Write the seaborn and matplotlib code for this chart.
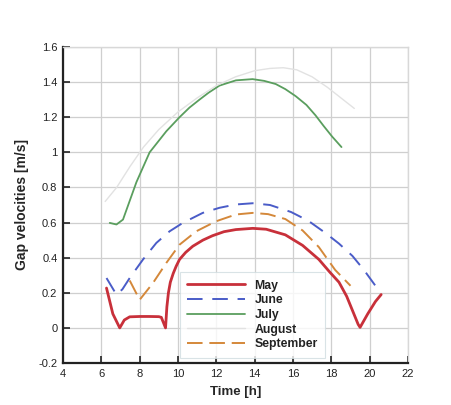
import numpy as np
import pandas as pd
import matplotlib
matplotlib.use("Agg")
import matplotlib.pyplot as plt
import seaborn as sns

# ---- data ----
may_t = [6.27, 6.6, 6.96, 7.2, 7.48, 8.0, 8.5, 9.0, 9.13, 9.35, 9.42, 9.5, 9.6, 9.75, 9.9, 10.08, 10.4, 10.77, 11.3, 11.8, 12.4, 13.02, 13.9, 14.6, 15.6, 16.5, 17.35, 17.9, 18.4, 18.8, 19.1, 19.4, 19.5, 19.9, 20.3, 20.6]
may_v = [0.227, 0.08, 0.0, 0.045, 0.063, 0.065, 0.065, 0.064, 0.06, 0.0, 0.12, 0.20, 0.26, 0.31, 0.35, 0.39, 0.43, 0.465, 0.50, 0.525, 0.548, 0.56, 0.567, 0.562, 0.53, 0.47, 0.39, 0.32, 0.26, 0.18, 0.10, 0.02, 0.003, 0.08, 0.15, 0.19]

jun_t = [6.27, 6.79, 7.1, 7.48, 8.17, 8.87, 9.56, 10.25, 11.29, 12.16, 13.02, 13.9, 14.8, 15.9, 16.8, 17.7, 18.4, 19.1, 19.7, 20.3]
jun_v = [0.284, 0.189, 0.22, 0.284, 0.389, 0.484, 0.55, 0.598, 0.655, 0.684, 0.703, 0.71, 0.70, 0.66, 0.61, 0.54, 0.48, 0.41, 0.33, 0.24]

jul_t = [6.44, 6.79, 7.13, 7.83, 8.52, 9.39, 10.08, 10.6, 11.12, 11.6, 12.16, 13.02, 13.89, 14.5, 15.1, 15.6, 16.14, 16.7, 17.18, 17.6, 18.04, 18.53]
jul_v = [0.598, 0.589, 0.617, 0.83, 1.0, 1.12, 1.2, 1.255, 1.30, 1.34, 1.38, 1.41, 1.417, 1.407, 1.389, 1.36, 1.32, 1.27, 1.21, 1.15, 1.09, 1.03]

aug_t = [6.2, 6.8, 7.5, 8.2, 9.0, 10.0, 11.0, 12.0, 13.0, 14.0, 14.8, 15.5, 16.2, 17.0, 17.8, 18.5, 19.2]
aug_v = [0.72, 0.80, 0.92, 1.03, 1.13, 1.23, 1.31, 1.38, 1.43, 1.465, 1.478, 1.482, 1.47, 1.43, 1.37, 1.31, 1.25]

sep_t = [7.48, 8.0, 8.69, 9.39, 10.08, 10.95, 11.98, 13.02, 13.9, 14.7, 15.6, 16.5, 17.35, 18.2, 19.0]
sep_v = [0.27, 0.16, 0.255, 0.37, 0.474, 0.55, 0.607, 0.646, 0.655, 0.648, 0.62, 0.555, 0.46, 0.33, 0.24]

x_ticks = [4, 6, 8, 10, 12, 14, 16, 18, 20, 22]
y_ticks = [-0.2, 0, 0.2, 0.4, 0.6, 0.8, 1.0, 1.2, 1.4, 1.6]

series = [
    ("May", may_t, may_v, "#c8303a", "-", 2.0),
    ("June", jun_t, jun_v, "#4a5cc8", (0, (8, 5)), 1.4),
    ("July", jul_t, jul_v, "#5a9e5e", "-", 1.3),
    ("August", aug_t, aug_v, "#e2e2e2", "-", 1.0),
    ("September", sep_t, sep_v, "#d4883a", (0, (8, 3.5)), 1.4),
]

sns.set_style("white")
plt.rcParams["font.family"] = ["Liberation Sans", "DejaVu Sans"]

fig = plt.figure(figsize=(4.51, 4.05), dpi=100)
ax = fig.add_axes([63 / 451, 42 / 405, 345 / 451, 316 / 405])

for name, t, v, c, ls, lw in series:
    df = pd.DataFrame({"t": t, "v": v})
    sns.lineplot(data=df, x="t", y="v", ax=ax, color=c, linestyle=ls,
                 linewidth=lw, label=name, sort=False)

ax.set_xlim(4, 22)
ax.set_ylim(-0.2, 1.6)
ax.set_xticks(x_ticks)
ax.set_yticks(y_ticks)
ax.set_yticklabels([f"{y:g}" for y in y_ticks])
ax.grid(True, color="#cfcfcf", linewidth=0.9)
ax.set_axisbelow(True)

ax.tick_params(direction="in", length=5, width=1.2, labelsize=8, colors="#222222",
               bottom=True, left=True, pad=4)
for s in ["left", "bottom"]:
    ax.spines[s].set_color("#222222")
    ax.spines[s].set_linewidth(1.6)
for s in ["top", "right"]:
    ax.spines[s].set_color("#d8d8d8")
    ax.spines[s].set_linewidth(1.0)

ax.set_xlabel("Time [h]", fontsize=9.5, fontweight="bold", labelpad=5)
ax.set_ylabel("Gap velocities [m/s]", fontsize=10, fontweight="bold", labelpad=7)

leg = ax.legend(loc="upper left", bbox_to_anchor=(0.339, 0.287), fontsize=8.8,
                handlelength=4.7, handletextpad=0.8, labelspacing=0.22,
                frameon=True, fancybox=False, borderpad=0.6, borderaxespad=0)
leg.get_frame().set_edgecolor("#d0dde0")
leg.get_frame().set_linewidth(0.8)
for txt in leg.get_texts():
    txt.set_fontweight("bold")
    txt.set_color("#222222")

fig.savefig("out.png", dpi=100)
